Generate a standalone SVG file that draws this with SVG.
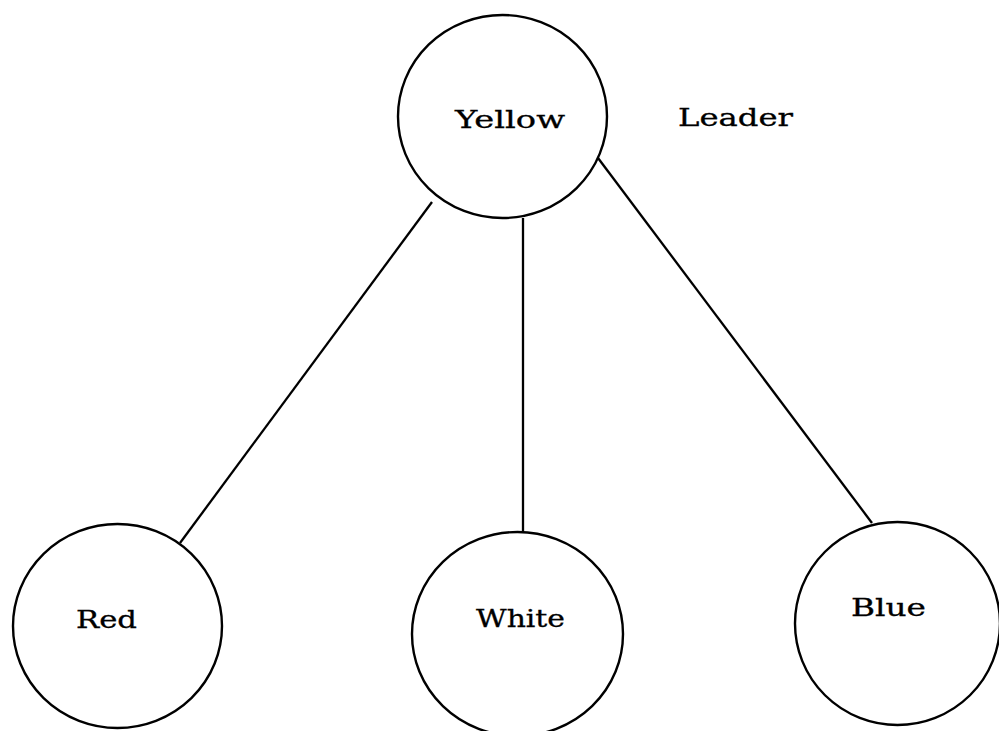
<svg xmlns="http://www.w3.org/2000/svg" width="999" height="731" viewBox="0 0 999 731">
<style>
.node{fill:none;stroke:#000;stroke-width:2.4}
.edge{stroke:#000;stroke-width:2.3;fill:none}
text{font-family:"DejaVu Serif","Liberation Serif",serif;font-size:24px;fill:#000;stroke:#000;stroke-width:0.3}
</style>
<rect width="999" height="731" fill="#fff"/>
<g id="connectors">
<line class="edge" x1="432" y1="202" x2="180" y2="543"/>
<line class="edge" x1="523" y1="218" x2="523" y2="532"/>
<line class="edge" x1="598" y1="158" x2="872" y2="523"/>
</g>
<g id="yellow">
<ellipse class="node" cx="502.5" cy="116.5" rx="104.5" ry="101.5"/>
<text x="455" y="128" textLength="110" lengthAdjust="spacingAndGlyphs">Yellow</text>
</g>
<g id="leader-label">
<text x="678" y="126" textLength="115" lengthAdjust="spacingAndGlyphs">Leader</text>
</g>
<g id="red">
<ellipse class="node" cx="117.5" cy="626" rx="104.5" ry="102"/>
<text x="76" y="628" textLength="61" lengthAdjust="spacingAndGlyphs">Red</text>
</g>
<g id="white">
<ellipse class="node" cx="517.5" cy="634" rx="105.5" ry="102"/>
<text x="476" y="627" textLength="89" lengthAdjust="spacingAndGlyphs">White</text>
</g>
<g id="blue">
<ellipse class="node" cx="897.5" cy="623.5" rx="102.5" ry="101.5"/>
<text x="851" y="616" textLength="75" lengthAdjust="spacingAndGlyphs">Blue</text>
</g>
</svg>
